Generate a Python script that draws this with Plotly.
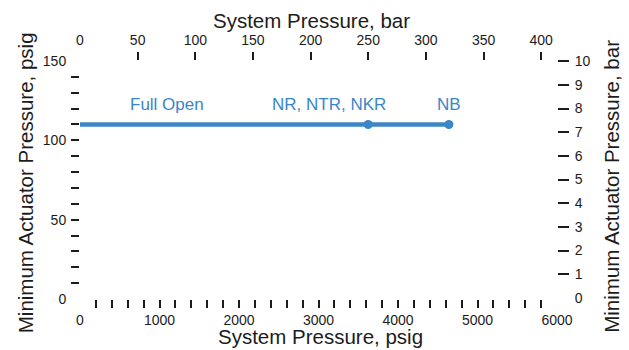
import plotly.graph_objects as go

# ---- data ----
system_psig = [0, 3625, 4640]          # line from full open to NB
actuator_psig = [110, 110, 110]
point_psig = [3625, 4640]              # NR/NTR/NKR and NB points
point_act = [110, 110]
label_text = ["Full Open", "NR, NTR, NKR", "NB"]
label_x = [1094, 3126, 4641]
label_y = [122.5, 122.5, 122.5]

psig_ticks = list(range(200, 6000, 200))
psig_labels = list(range(0, 6001, 1000))
bar_top_ticks = list(range(50, 401, 50))
bar_top_labels = list(range(0, 401, 50))
act_psig_ticks = list(range(10, 150, 10))
act_psig_labels = [0, 50, 100, 150]
act_bar_ticks = list(range(1, 11))
act_bar_labels = list(range(0, 11))

PSI_PER_BAR = 14.5038
BLUE = "#3b86c6"
INK = "#1c1c1c"
FONT = "Liberation Sans, Arial, Helvetica, sans-serif"

fig = go.Figure()
fig.add_trace(go.Scatter(x=system_psig, y=actuator_psig, mode="lines",
                         line=dict(color=BLUE, width=4.5), hoverinfo="skip",
                         showlegend=False))
fig.add_trace(go.Scatter(x=point_psig, y=point_act, mode="markers",
                         marker=dict(color=BLUE, size=9), showlegend=False))

for t, x, y in zip(label_text, label_x, label_y):
    fig.add_annotation(x=x, y=y, xref="x", yref="y", text=t, showarrow=False,
                       font=dict(family=FONT, size=17, color=BLUE),
                       xanchor="center", yanchor="middle")

xr = [0, 6000]
yr = [0, 150]
bar_yr = [-0.05, 10.01]
tick_common = dict(showgrid=False, zeroline=False, showline=False,
                   tickfont=dict(family=FONT, size=14, color=INK),
                   tickmode="array")

fig.update_layout(
    width=629, height=350,
    margin=dict(l=80, r=72, t=61, b=51),
    plot_bgcolor="white", paper_bgcolor="white",
    showlegend=False,
    font=dict(family=FONT, color=INK),
    xaxis=dict(range=xr, tickvals=psig_ticks, showticklabels=False,
               ticks="outside", ticklen=8, tickwidth=1.8, tickcolor=INK,
               side="bottom", **tick_common),
    xaxis3=dict(range=xr, overlaying="x", side="bottom", tickvals=psig_labels,
                ticktext=[str(v) for v in psig_labels],
                ticks="outside", ticklen=7, tickcolor="rgba(0,0,0,0)",
                ticklabelstandoff=1, **tick_common),
    xaxis2=dict(range=[0, 6000 / PSI_PER_BAR], overlaying="x", side="top",
                tickvals=bar_top_ticks, showticklabels=False,
                ticks="outside", ticklen=8, tickwidth=1.8, tickcolor=INK,
                **tick_common),
    xaxis4=dict(range=[0, 6000 / PSI_PER_BAR], overlaying="x", side="top",
                tickvals=bar_top_labels, ticktext=[str(v) for v in bar_top_labels],
                ticks="outside", ticklen=7, tickcolor="rgba(0,0,0,0)",
                ticklabelstandoff=2, **tick_common),
    yaxis=dict(range=yr, tickvals=act_psig_ticks, showticklabels=False,
               ticks="outside", ticklen=8, tickwidth=1.8, tickcolor=INK,
               side="left", **tick_common),
    yaxis3=dict(range=yr, overlaying="y", side="left", tickvals=act_psig_labels,
                ticktext=[str(v) for v in act_psig_labels],
                ticks="outside", ticklen=8, tickcolor="rgba(0,0,0,0)",
                ticklabelstandoff=2, **tick_common),
    yaxis2=dict(range=bar_yr, overlaying="y", side="right",
                tickvals=act_bar_ticks, showticklabels=False,
                ticks="outside", ticklen=11, tickwidth=1.8, tickcolor=INK,
                **tick_common),
    yaxis4=dict(range=bar_yr, overlaying="y", side="right",
                tickvals=act_bar_labels, ticktext=[str(v) for v in act_bar_labels],
                ticks="outside", ticklen=11, tickcolor="rgba(0,0,0,0)",
                ticklabelstandoff=3, **tick_common),
)

# invisible traces to activate the overlay axes
for xa, ya in (("x3", "y3"), ("x2", "y2"), ("x4", "y4")):
    fig.add_trace(go.Scatter(x=[None], y=[None], xaxis=xa, yaxis=ya,
                             showlegend=False, hoverinfo="skip"))

title_font = dict(family=FONT, size=20.5, color=INK)
fig.add_annotation(text="System Pressure, bar", xref="paper", yref="paper",
                   x=0.486, y=1.172, showarrow=False, font=title_font,
                   xanchor="center", yanchor="middle")
fig.add_annotation(text="System Pressure, psig", xref="paper", yref="paper",
                   x=0.505, y=-0.158, showarrow=False, font=title_font,
                   xanchor="center", yanchor="middle")
fig.add_annotation(text="Minimum Actuator Pressure, psig", xref="paper", yref="paper",
                   x=-0.115, y=0.487, showarrow=False, font=title_font,
                   textangle=-90, xanchor="center", yanchor="middle")
fig.add_annotation(text="Minimum Actuator Pressure, bar", xref="paper", yref="paper",
                   x=1.115, y=0.475, showarrow=False, font=title_font,
                   textangle=-90, xanchor="center", yanchor="middle")

fig.write_html("out.html")
